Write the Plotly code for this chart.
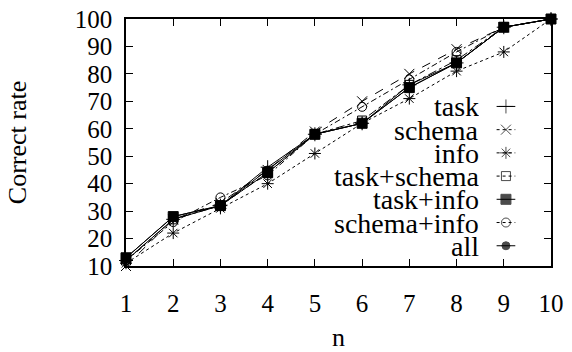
import plotly.graph_objects as go

# data
n = [1, 2, 3, 4, 5, 6, 7, 8, 9, 10]
task = [12, 27, 32, 46, 58, 62, 76, 84, 97, 100]
schema = [10, 27, 33, 45, 59, 70, 80, 89, 97, 100]
info = [11, 22, 31, 40, 51, 62, 71, 81, 88, 100]
task_schema = [12, 27, 32, 44, 58, 63, 76, 85, 97, 100]
task_info = [13, 28, 32, 44, 58, 62, 75, 84, 97, 100]
schema_info = [12, 26, 35, 43, 58, 68, 78, 88, 97, 100]
all_ = [13, 28, 32, 45, 58, 62, 75, 84, 97, 100]

names = ["task", "schema", "info", "task+schema", "task+info", "schema+info", "all"]
series = [task, schema, info, task_schema, task_info, schema_info, all_]
symbols = ["cross-thin-open", "x-thin-open", "asterisk-open", "square-open",
           "square", "circle-open", "circle"]
dashes = ["solid", "dash", "dot", "dashdot", "solid", "6px,3px,2px,3px", "solid"]
sizes = [10, 10, 10, 9, 10, 9, 8]

FONT = "Liberation Serif, Times New Roman, serif"
fig = go.Figure()

for name, ys, sym, dash, sz in zip(names, series, symbols, dashes, sizes):
    fig.add_trace(go.Scatter(
        x=n, y=ys, mode="lines+markers", name=name, cliponaxis=False,
        line=dict(color="black", width=1, dash=dash),
        marker=dict(symbol=sym, size=sz, color="black",
                    line=dict(color="black", width=1)),
        showlegend=False,
    ))

# hand-built legend: right-aligned text, key on the right
row0, step = 0.646, 0.094
for i, (name, sym, dash, sz) in enumerate(zip(names, symbols, dashes, sizes)):
    yy = row0 - i * step
    fig.add_trace(go.Scatter(
        x=[0.872, 0.894, 0.916], y=[yy] * 3, mode="lines+markers",
        xaxis="x2", yaxis="y2", showlegend=False, hoverinfo="skip",
        line=dict(color="black", width=1, dash="dot" if dash != "solid" else "solid"),
        marker=dict(symbol=sym, size=[0, sz, 0], color="black",
                    line=dict(color="black", width=1)),
    ))
    fig.add_annotation(x=0.832, y=yy, xref="paper", yref="paper", text=name,
                       showarrow=False, xanchor="right", yanchor="middle",
                       height=22, borderpad=0,
                       font=dict(family=FONT, size=28, color="black"))

axis_style = dict(showline=True, linecolor="black", linewidth=1.5, mirror="ticks",
                  ticks="inside", ticklen=7, tickcolor="black", showgrid=False,
                  zeroline=False, automargin=False,
                  tickfont=dict(family=FONT, size=25, color="black"))

fig.update_layout(
    width=572, height=352,
    margin=dict(l=126, r=21, t=19, b=86),
    font=dict(family=FONT, color="black"),
    plot_bgcolor="white", paper_bgcolor="white",
    xaxis=dict(range=[1, 10], tickvals=n, ticklabelstandoff=14,
               title=dict(text="n", standoff=24,
                          font=dict(family=FONT, size=26, color="black")), **axis_style),
    yaxis=dict(range=[10, 100], tickvals=list(range(10, 101, 10)), ticklabelstandoff=7,
               title=dict(text="Correct rate", standoff=41,
                          font=dict(family=FONT, size=26, color="black")), **axis_style),
    xaxis2=dict(range=[0, 1], overlaying="x", visible=False),
    yaxis2=dict(range=[0, 1], overlaying="y", visible=False),
)

fig.write_html("out.html", config={"displayModeBar": False},
               post_script="document.body.style.margin='0';")
